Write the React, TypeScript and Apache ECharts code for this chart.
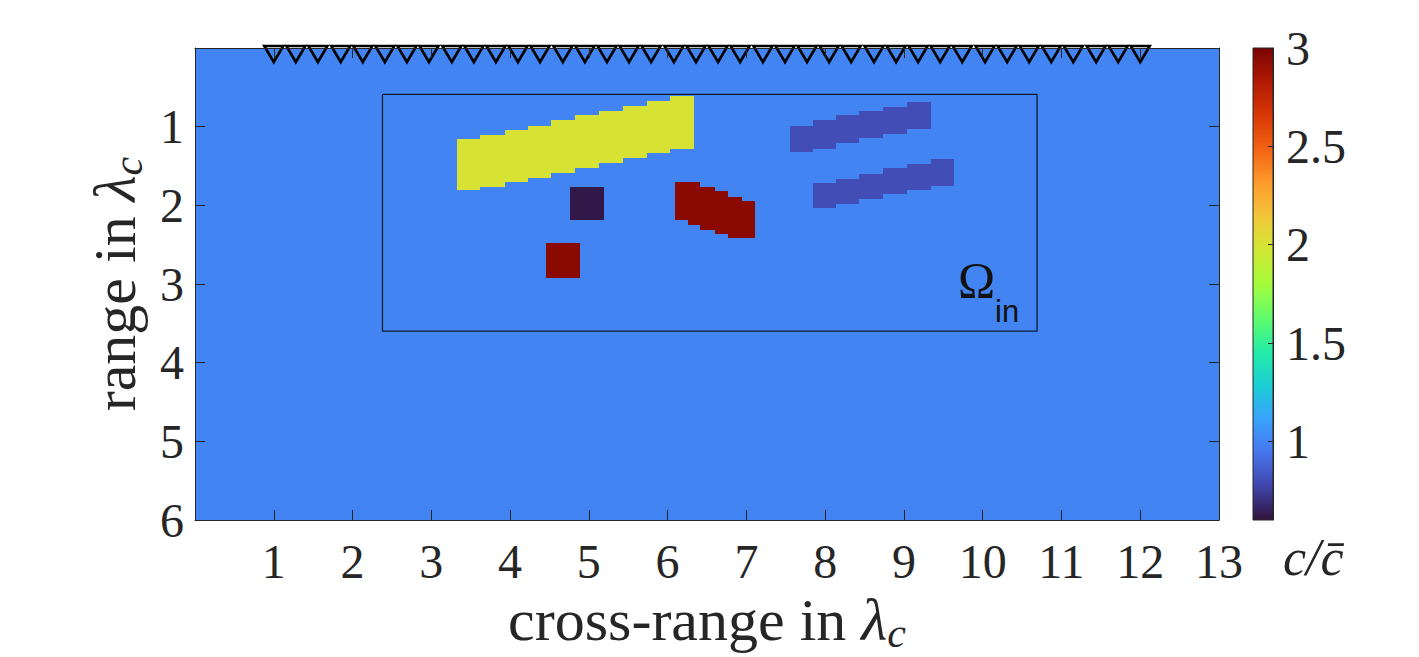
import React, { useEffect, useRef } from "react";
import * as echarts from "echarts";

// ---------- data ----------
const TURBO = ["#30123b", "#4145ab", "#4675ed", "#39a2fc", "#1bcfd4", "#24eca6", "#61fc6c", "#a4fc3b", "#d1e834", "#f3c63a", "#fe9b2d", "#f36315", "#d93806", "#b11901", "#7a0402"];
const C_MIN = 0.6;
const C_MAX = 3;
const BACKGROUND = [0, 13, 0, 6, 1];

const receiverX = [1.0, 1.28, 1.56, 1.85, 2.13, 2.41, 2.69, 2.97, 3.26, 3.54, 3.82, 4.1, 4.38, 4.67, 4.95, 5.23, 5.51, 5.79, 6.08, 6.36, 6.64, 6.92, 7.21, 7.49, 7.77, 8.05, 8.33, 8.62, 8.9, 9.18, 9.46, 9.74, 10.03, 10.31, 10.59, 10.87, 11.15, 11.44, 11.72, 12.0];
const receiverY = 0;

const yellowEdges = [3.33, 3.62, 3.93, 4.23, 4.52, 4.83, 5.13, 5.43, 5.74, 6.03, 6.33];
const yellowTops = [1.16, 1.1, 1.04, 0.99, 0.92, 0.85, 0.8, 0.74, 0.67, 0.61];
const yellowBottoms = [1.81, 1.77, 1.7, 1.65, 1.59, 1.52, 1.46, 1.4, 1.33, 1.28];
const yellowValue = 2.0;

const redEdges = [6.09, 6.26, 6.41, 6.6, 6.77, 6.94, 7.11];
const redTops = [1.7, 1.7, 1.77, 1.82, 1.89, 1.95];
const redBottoms = [2.19, 2.25, 2.31, 2.37, 2.42, 2.42];
const redValue = 2.95;

const blueUpperEdges = [7.55, 7.84, 8.14, 8.43, 8.74, 9.04, 9.34];
const blueUpperTops = [0.99, 0.92, 0.85, 0.8, 0.75, 0.69];
const blueUpperBottoms = [1.32, 1.28, 1.21, 1.15, 1.09, 1.03];
const blueLowerEdges = [7.84, 8.14, 8.43, 8.74, 9.04, 9.34, 9.64];
const blueLowerTops = [1.71, 1.66, 1.6, 1.53, 1.47, 1.41];
const blueLowerBottoms = [2.04, 1.98, 1.92, 1.86, 1.8, 1.75];
const blueValue = 0.8;

const purpleSquare = [4.76, 5.19, 1.77, 2.19, 0.62];
const redSquare = [4.46, 4.89, 2.48, 2.92, 2.95];

const omegaBoxX = [2.38, 10.69];
const omegaBoxY = [0.59, 3.6];

const colorbarTicks = [1, 1.5, 2, 2.5, 3];

// ---------- helpers ----------
function columns(edges: number[], tops: number[], bottoms: number[], v: number) {
  return tops.map((t, i) => [edges[i], edges[i + 1], t, bottoms[i], v]);
}

const cells = [
  BACKGROUND,
  ...columns(yellowEdges, yellowTops, yellowBottoms, yellowValue),
  ...columns(redEdges, redTops, redBottoms, redValue),
  ...columns(blueUpperEdges, blueUpperTops, blueUpperBottoms, blueValue),
  ...columns(blueLowerEdges, blueLowerTops, blueLowerBottoms, blueValue),
  purpleSquare,
  redSquare,
];

const boxLine = [
  [omegaBoxX[0], omegaBoxY[0]],
  [omegaBoxX[1], omegaBoxY[0]],
  [omegaBoxX[1], omegaBoxY[1]],
  [omegaBoxX[0], omegaBoxY[1]],
  [omegaBoxX[0], omegaBoxY[0]],
];

const SERIF = "Liberation Serif";
const TXT = "#262626";

const nameRich = {
  t: { fontFamily: SERIF, fontSize: 60, color: TXT, lineHeight: 68 },
  l: { fontFamily: SERIF, fontStyle: "italic", fontSize: 60, color: TXT, lineHeight: 68 },
  s: { fontFamily: SERIF, fontStyle: "italic", fontSize: 42, color: TXT, lineHeight: 36, verticalAlign: "bottom" },
};

const tickLabel = { fontFamily: SERIF, fontSize: 48, color: TXT };
const axisLine = { show: true, onZero: false, lineStyle: { color: TXT, width: 1 } };
const axisTick = { show: true, inside: true, length: 10, lineStyle: { color: TXT, width: 1 } };

export default function App() {
  const ref = useRef<HTMLDivElement>(null);
  useEffect(() => {
    if (!ref.current) return;
    const chart = echarts.init(ref.current, undefined, { renderer: "svg" });
    const option: any = {
      animation: false,
      backgroundColor: "#ffffff",
      grid: [
        { left: 195, top: 48, width: 1024, height: 472, outerBoundsMode: "none" },
        { left: 1253, top: 48, width: 20, height: 472, outerBoundsMode: "none" },
      ],
      xAxis: [
        {
          gridIndex: 0, type: "value", min: 0, max: 13, interval: 1, position: "bottom", z: 10,
          axisLine, axisTick,
          axisLabel: { ...tickLabel, margin: 17, formatter: (v: number) => (v === 0 ? "" : String(v)) },
          splitLine: { show: false },
          name: "{t|cross-range in }{l|λ}{s|c}",
          nameLocation: "middle", nameGap: 66,
          nameTextStyle: { rich: nameRich },
        },
        {
          gridIndex: 0, type: "value", min: 0, max: 13, interval: 1, position: "top", z: 10,
          axisLine, axisTick, axisLabel: { show: false }, splitLine: { show: false },
        },
        { gridIndex: 1, type: "value", min: 0, max: 1, show: false },
      ],
      yAxis: [
        {
          gridIndex: 0, type: "value", min: 0, max: 6, interval: 1, inverse: true, position: "left", z: 10,
          axisLine, axisTick,
          axisLabel: { ...tickLabel, margin: 11, formatter: (v: number) => (v === 0 ? "" : String(v)) },
          splitLine: { show: false },
          name: "{t|range in }{l|λ}{s|c}",
          nameLocation: "middle", nameGap: 40,
          nameTextStyle: { rich: nameRich },
        },
        {
          gridIndex: 0, type: "value", min: 0, max: 6, interval: 1, inverse: true, position: "right", z: 10,
          axisLine, axisTick, axisLabel: { show: false }, splitLine: { show: false },
        },
        {
          gridIndex: 1, type: "value", min: C_MIN, max: C_MAX, position: "right", z: 10,
          axisLine,
          axisTick: { show: true, inside: true, length: 5, lineStyle: { color: TXT }, customValues: colorbarTicks },
          axisLabel: { ...tickLabel, margin: 13, customValues: colorbarTicks },
          splitLine: { show: false },
        },
      ],
      visualMap: {
        type: "continuous", show: false, min: C_MIN, max: C_MAX, dimension: 4, seriesIndex: 0,
        inRange: { color: TURBO },
      },
      series: [
        {
          type: "custom", xAxisIndex: 0, yAxisIndex: 0, z: 1, clip: true,
          encode: { x: [0, 1], y: [2, 3] },
          data: cells,
          renderItem: (params: any, api: any) => {
            const p0 = api.coord([api.value(0), api.value(2)]);
            const p1 = api.coord([api.value(1), api.value(3)]);
            const color = api.visual("color");
            const x0 = Math.round(Math.min(p0[0], p1[0]));
            const x1 = Math.round(Math.max(p0[0], p1[0]));
            const y0 = Math.round(Math.min(p0[1], p1[1]));
            const y1 = Math.round(Math.max(p0[1], p1[1]));
            return {
              type: "rect",
              shape: { x: x0, y: y0, width: x1 - x0, height: y1 - y0 },
              style: { fill: color },
            };
          },
        },
        {
          type: "line", xAxisIndex: 0, yAxisIndex: 0, z: 3, data: boxLine,
          symbol: "none", lineStyle: { color: "#0e1a33", width: 1.3 }, silent: true,
        },
        {
          type: "scatter", xAxisIndex: 0, yAxisIndex: 0, z: 4, clip: false,
          data: receiverX.map((x) => [x, receiverY]),
          symbol: "triangle", symbolRotate: 180, symbolSize: [19, 16], symbolOffset: [0, 6],
          itemStyle: { color: "rgba(0,0,0,0)", borderColor: "#000000", borderWidth: 2.6, opacity: 1 },
        },
        {
          type: "custom", xAxisIndex: 2, yAxisIndex: 2, z: 2,
          encode: { x: [0, 1], y: [2, 3] },
          data: [[0, 1, C_MIN, C_MAX]],
          renderItem: (params: any, api: any) => {
            const p0 = api.coord([api.value(0), api.value(2)]);
            const p1 = api.coord([api.value(1), api.value(3)]);
            return {
              type: "rect",
              shape: { x: p0[0], y: p1[1], width: p1[0] - p0[0], height: p0[1] - p1[1] },
              style: {
                fill: new echarts.graphic.LinearGradient(0, 1, 0, 0,
                  TURBO.map((c, i) => ({ offset: i / (TURBO.length - 1), color: c }))),
                stroke: TXT, lineWidth: 1,
              },
            };
          },
        },
      ],
      graphic: [
        {
          type: "text", z: 20, x: 958, y: 280,
          style: { text: "Ω", font: `50px "${SERIF}"`, fill: "#111111", align: "left", verticalAlign: "middle" },
        },
        {
          type: "text", z: 20, x: 995, y: 311,
          style: { text: "in", font: `31px "Liberation Sans"`, fill: "#111111", align: "left", verticalAlign: "middle" },
        },
        {
          type: "text", z: 20, x: 1283, y: 557,
          style: { text: "c/c\u0304", font: `italic 52px "${SERIF}"`, fill: TXT, align: "left", verticalAlign: "middle" },
        },
      ],
    };
    chart.setOption(option);
    return () => chart.dispose();
  }, []);
  return (
    <div
      ref={ref}
      style={{ position: "fixed", left: 0, top: 0, width: 1419, height: 657, background: "#fff" }}
    />
  );
}
